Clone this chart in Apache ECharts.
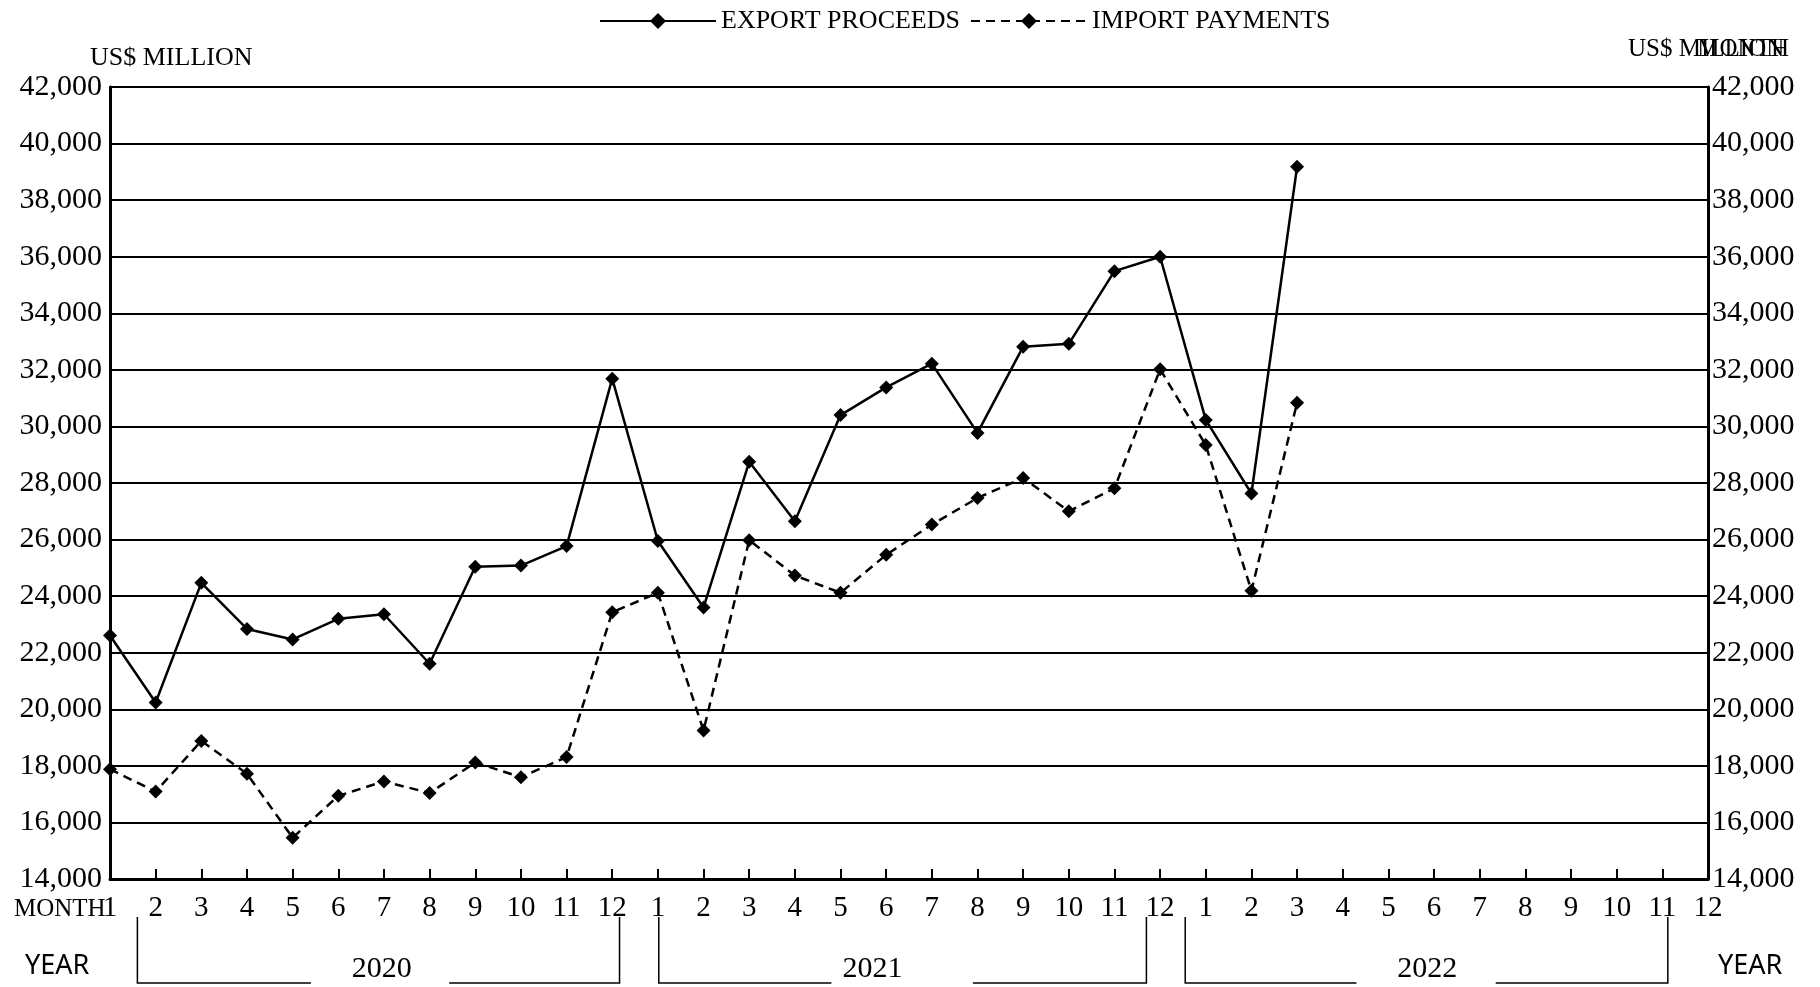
<!DOCTYPE html>
<html>
<head>
<meta charset="utf-8">
<title>Export proceeds and import payments</title>
<script src="https://cdn.jsdelivr.net/npm/echarts@6/dist/echarts.min.js"></script>
<style>
  html, body { margin: 0; padding: 0; background: #fff; }
  #main { width: 1820px; height: 987px; }
</style>
</head>
<body>
<div id="main"></div>
<script>
// month labels, 3 years (2020-2022)
var monthLabels = ['1','2','3','4','5','6','7','8','9','10','11','12',
                   '1','2','3','4','5','6','7','8','9','10','11','12',
                   '1','2','3','4','5','6','7','8','9','10','11','12'];
var yearLabels = ['2020', '2021', '2022'];

// US$ million, 2020-1 .. 2022-3
var exportProceeds = [22610, 20240, 24470, 22840, 22470, 23200, 23360, 21610, 25040, 25080, 25770, 31690,
                      25950, 23600, 28750, 26650, 30400, 31380, 32220, 29770, 32820, 32920, 35490, 36000,
                      30230, 27630, 39180];
var importPayments = [17880, 17090, 18880, 17720, 15460, 16940, 17450, 17040, 18120, 17600, 18310, 23430,
                      24120, 19250, 25980, 24730, 24120, 25460, 26530, 27470, 28180, 27000, 27810, 32020,
                      29340, 24190, 30840];

var yMin = 14000, yMax = 42000, yStep = 2000;

var serif = 'Liberation Serif';
var myChart = echarts.init(document.getElementById('main'));

var option = {
    animation: false,
    backgroundColor: '#fff',
    legend: {
        left: 594,
        top: 3,
        itemWidth: 116,
        itemHeight: 20,
        itemGap: 10,
        textStyle: { fontFamily: serif, fontSize: 26, color: '#000' },
        data: ['EXPORT PROCEEDS', 'IMPORT PAYMENTS']
    },
    grid: {
        left: 110,
        right: 112,
        top: 87,
        bottom: 108
    },
    xAxis: [{
        type: 'category',
        boundaryGap: false,
        data: monthLabels,
        axisLine: { lineStyle: { color: '#000', width: 3 } },
        axisTick: { show: true, inside: true, length: 10, lineStyle: { color: '#000', width: 2 } },
        axisLabel: { interval: 0, margin: 15, fontFamily: serif, fontSize: 29, color: '#000' },
        splitLine: { show: false }
    }],
    yAxis: [{
        type: 'value',
        position: 'left',
        min: yMin,
        max: yMax,
        interval: yStep,
        name: 'US$ MILLION',
        nameLocation: 'end',
        nameGap: 29,
        nameTextStyle: { fontFamily: serif, fontSize: 26, color: '#000', align: 'left', verticalAlign: 'middle', padding: [0, 0, 0, -20] },
        axisLine: { show: true, lineStyle: { color: '#000', width: 3 } },
        axisTick: { show: false },
        axisLabel: { margin: 8, fontFamily: serif, fontSize: 30, color: '#000',
            formatter: function (v) { return v.toLocaleString('en-US'); } },
        splitLine: { show: true, lineStyle: { color: '#000', width: 2 } }
    }, {
        type: 'value',
        position: 'right',
        min: yMin,
        max: yMax,
        interval: yStep,
        name: 'US$ MILLION',
        nameLocation: 'end',
        nameGap: 38,
        nameTextStyle: { fontFamily: serif, fontSize: 25, color: '#000', align: 'left', verticalAlign: 'middle', padding: [0, 0, 0, -80] },
        axisLine: { show: true, lineStyle: { color: '#000', width: 3 } },
        axisTick: { show: false },
        axisLabel: { margin: 4, fontFamily: serif, fontSize: 30, color: '#000',
            formatter: function (v) { return v.toLocaleString('en-US'); } },
        splitLine: { show: false }
    }],
    series: [{
        name: 'EXPORT PROCEEDS',
        type: 'line',
        symbol: 'diamond',
        symbolSize: 14,
        itemStyle: { color: '#000' },
        lineStyle: { color: '#000', width: 2.5, type: 'solid' },
        data: exportProceeds
    }, {
        name: 'IMPORT PAYMENTS',
        type: 'line',
        symbol: 'diamond',
        symbolSize: 14,
        itemStyle: { color: '#000' },
        lineStyle: { color: '#000', width: 2.5, type: [9, 6] },
        data: importPayments
    }]
};
myChart.setOption(option);

// year brackets below the month labels
var p0 = myChart.convertToPixel({ xAxisIndex: 0 }, 0);
var step = myChart.convertToPixel({ xAxisIndex: 0 }, 1) - p0;
function px(i) { return p0 + i * step; }

// [left idx, right idx, gap start idx, gap end idx, label centre idx]
var brackets = [
    [0.6, 11.16, 4.4, 7.43, 5.95],
    [12.02, 22.7, 15.8, 18.9, 16.7],
    [23.55, 34.12, 27.3, 30.35, 28.85]
];
var yTop = 917, yBot = 983;
var lineSt = { stroke: '#000', lineWidth: 1.5 };
var g = [];
brackets.forEach(function (b, k) {
    g.push({ type: 'polyline', shape: { points: [[px(b[0]), yTop], [px(b[0]), yBot], [px(b[2]), yBot]] }, style: lineSt, silent: true });
    g.push({ type: 'polyline', shape: { points: [[px(b[3]), yBot], [px(b[1]), yBot], [px(b[1]), yTop]] }, style: lineSt, silent: true });
    g.push({ type: 'text', x: px(b[4]), y: 969, style: { text: yearLabels[k], fontFamily: serif, fontSize: 30, fill: '#000', align: 'center', verticalAlign: 'middle' } });
});
g.push({ type: 'text', x: 14, y: 909, style: { text: 'MONTH', fontFamily: serif, fontSize: 25, fill: '#000', align: 'left', verticalAlign: 'middle' } });
g.push({ type: 'text', x: 1789, y: 49, style: { text: 'MONTH', fontFamily: serif, fontSize: 25, fill: '#000', align: 'right', verticalAlign: 'middle' } });
g.push({ type: 'text', x: 25, y: 966, style: { text: 'YEAR', fontFamily: 'Noto Sans', fontSize: 27, fill: '#000', align: 'left', verticalAlign: 'middle' } });
g.push({ type: 'text', x: 1718, y: 966, style: { text: 'YEAR', fontFamily: 'Noto Sans', fontSize: 27, fill: '#000', align: 'left', verticalAlign: 'middle' } });
myChart.setOption({ graphic: g });
</script>
</body>
</html>
